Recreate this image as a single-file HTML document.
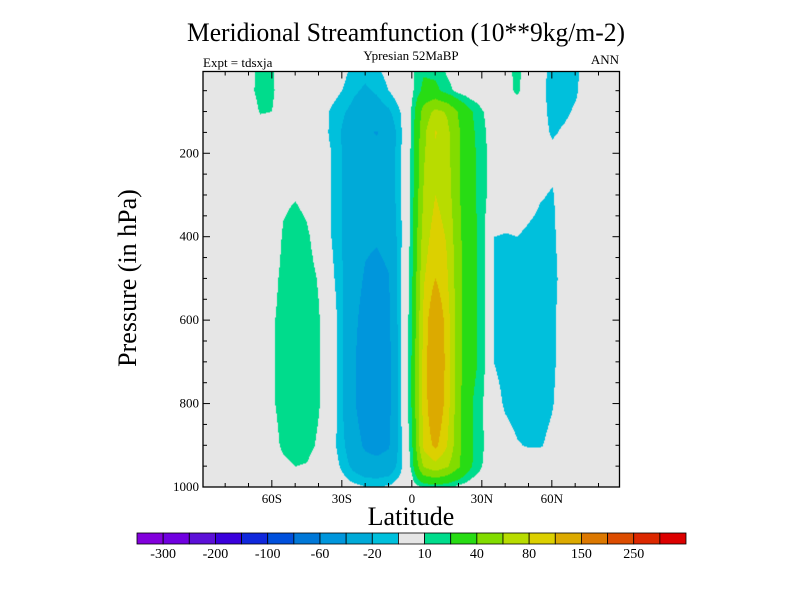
<!DOCTYPE html>
<html><head><meta charset="utf-8"><style>
html,body{margin:0;padding:0;background:#fff;}
#wrap{position:relative;width:800px;height:600px;overflow:hidden;}
svg{position:absolute;left:0;top:0;}
text{font-family:"Liberation Serif",serif;fill:#000;}
</style></head><body>
<div id="wrap">
<svg id="svg" width="800" height="600">
<text x="406" y="41" font-size="26" text-anchor="middle" textLength="438" lengthAdjust="spacingAndGlyphs">Meridional Streamfunction (10**9kg/m-2)</text>
<text x="411" y="60" font-size="13" text-anchor="middle">Ypresian  52MaBP</text>
<text x="203" y="67" font-size="13">Expt = tdsxja</text>
<text x="619" y="64" font-size="13" text-anchor="end">ANN</text>
<text transform="translate(136,278) rotate(-90)" font-size="26" text-anchor="middle">Pressure (in hPa)</text>
<text x="411" y="525" font-size="26" text-anchor="middle">Latitude</text>
<g id="plot"></g>
<g id="axes"></g>
<g id="cbar"></g>
</svg>
</div>
<script>
const lats = [-90,-85,-80,-75,-70,-65,-60,-55,-50,-45,-40,-35,-30,-25,-20,-15,-10,-5,0,5,10,15,20,25,30,35,40,45,50,55,60,65,70,75,80,85,90];
const pressures = [0,50,100,150,200,300,400,500,600,700,800,900,950,1000];
const psi = [
/*0*/   [0,0,0,0,5,14,12,2,0,0,0,0,-5,-14,-16,-12,-5,0,8,18,16,8,3,0,0,2,6,13,4,-4,-15,-16,-13,-2,0,0,0],
/*50*/  [0,0,0,0,6,14,12,3,0,0,0,-4,-10,-18,-22,-18,-10,-2,8,24,24,14,6,2,0,0,6,12,3,-6,-15,-15,-12,-3,0,0,0],
/*100*/ [0,0,0,0,2,11,10,2,0,0,0,-11,-18,-24,-28,-27,-22,-10,12,48,65,58,38,22,11,3,2,3,0,-5,-14,-13,-8,-2,0,0,0],
/*150*/ [0,0,0,0,0,3,3,0,0,0,0,-12,-21,-30,-38,-41,-32,-13,12,55,82,65,42,24,13,4,0,0,0,-4,-12,-8,-4,0,0,0,0],
/*200*/ [0,0,0,0,0,0,0,0,0,0,0,-9,-20,-30,-34,-35,-30,-12,14,58,75,66,42,25,14,4,0,0,0,0,-6,-3,0,0,0,0,0],
/*300*/ [0,0,0,0,0,0,0,7,9,6,0,-9,-20,-30,-33,-34,-30,-12,14,62,80,70,42,25,14,4,0,0,-4,-9,-11,-4,0,0,0,0,0],
/*400*/ [0,0,0,0,0,0,0,12,16,12,4,-9,-20,-32,-37,-38,-34,-13,16,70,90,78,44,26,16,-10,-11,-10,-13,-15,-13,-3,0,0,0,0,0],
/*500*/ [0,0,0,0,0,0,5,14,17,15,9,-5,-19,-33,-42,-46,-41,-12,18,78,100,82,46,26,16,-10,-15,-15,-16,-16,-15,-4,0,0,0,0,0],
/*600*/ [0,0,0,0,0,0,8,15,18,17,11,2,-19,-36,-47,-52,-44,-12,20,85,125,90,46,26,16,-10,-15,-16,-16,-16,-13,-3,0,0,0,0,0],
/*700*/ [0,0,0,0,0,0,8,15,18,17,11,2,-19,-38,-50,-54,-46,-12,22,88,130,92,46,26,16,-10,-15,-16,-16,-16,-13,-3,0,0,0,0,0],
/*800*/ [0,0,0,0,0,0,8,15,18,17,11,2,-19,-38,-50,-54,-46,-12,22,88,125,90,44,22,11,-4,-12,-15,-16,-16,-11,-2,0,0,0,0,0],
/*900*/ [0,0,0,0,0,0,4,13,16,14,8,-4,-16,-32,-43,-46,-42,-14,18,85,105,80,44,22,12,-2,-4,-9,-11,-11,-6,0,0,0,0,0,0],
/*950*/ [0,0,0,0,0,0,0,6,10,9,3,-2,-12,-24,-32,-34,-30,-14,14,62,72,62,42,22,10,0,0,0,0,0,0,0,0,0,0,0,0],
/*1000*/[0,0,0,0,0,0,0,0,0,0,0,0,-3,-6,-9,-9,-8,-3,4,10,12,10,6,2,0,0,0,0,0,0,0,0,0,0,0,0,0]
];
const levels = [-300,-250,-200,-150,-100,-80,-60,-40,-20,-10,10,20,40,60,80,100,150,200,250,300];
const levelLabels = ["-300","-200","-100","-60","-20","10","40","80","150","250"];
const colors = ["#8200dc","#7000e0","#5c10d8","#3a00dc","#1028dc","#0050dc","#0078d8","#0096dc","#00aad8","#00c0dc","#e6e6e6","#00dc8c","#28dc14","#82dc00","#b8dc00","#dcd000","#dcaa00","#dc7800","#dc4c00","#dc2800","#dc0000"];
const xTickVals = [-60,-30,0,30,60];
const xTickLabels = ["60S","30S","0","30N","60N"];
const yTickVals = [200,400,600,800,1000];

const NS="http://www.w3.org/2000/svg";
const X0=203, X1=619.5, Y0=71.5, Y1=487;
const LATMIN=-89.5, LATMAX=89, PTOP=4, PBOT=1000;
function xs(lat){return X0+(lat-LATMIN)/(LATMAX-LATMIN)*(X1-X0);}
function ys(p){return Y0+(p-PTOP)/(PBOT-PTOP)*(Y1-Y0);}
function mk(tag,attrs,parent){const e=document.createElementNS(NS,tag);for(const k in attrs)e.setAttribute(k,attrs[k]);parent.appendChild(e);return e;}
function idx(arr,v){let i=0;while(i<arr.length-2&&v>arr[i+1])i++;let t=(v-arr[i])/(arr[i+1]-arr[i]);t=Math.max(0,Math.min(1,t));return [i,t];}
function val(lat,p){const [i,ti]=idx(lats,lat);const [j,tj]=idx(pressures,p);
 const a=psi[j][i],b=psi[j][i+1],c=psi[j+1][i],d=psi[j+1][i+1];
 return (a*(1-ti)+b*ti)*(1-tj)+(c*(1-ti)+d*ti)*tj;}
function colorFor(v){let k=0;while(k<levels.length&&v>=levels[k])k++;return colors[k];}

const plot=document.getElementById('plot');
const W=Math.round(X1-X0),H=Math.round(Y1-Y0);
const cv=document.createElement('canvas');cv.width=W;cv.height=H;
const ctx=cv.getContext('2d');const img=ctx.createImageData(W,H);
function hex(c){return [parseInt(c.substr(1,2),16),parseInt(c.substr(3,2),16),parseInt(c.substr(5,2),16)];}
for(let py=0;py<H;py++){const p=PTOP+(py+0.5)/H*(PBOT-PTOP);
 for(let px=0;px<W;px++){const lat=LATMIN+(px+0.5)/W*(LATMAX-LATMIN);
  const rgb=hex(colorFor(val(lat,p)));const o=(py*W+px)*4;
  img.data[o]=rgb[0];img.data[o+1]=rgb[1];img.data[o+2]=rgb[2];img.data[o+3]=255;}}
ctx.putImageData(img,0,0);
const im=mk('image',{x:X0,y:Y0,width:W,height:H,preserveAspectRatio:'none',href:cv.toDataURL()},plot);



const axes=document.getElementById('axes');
const frame=mk('rect',{x:X0,y:Y0,width:X1-X0,height:Y1-Y0,fill:'none',stroke:'#000','stroke-width':1.3},axes);


for(let lat=-80;lat<=80;lat+=10){const x=xs(lat);const L=(lat%30===0)?7:4;
 const t1=mk('line',{x1:x,y1:Y1,x2:x,y2:Y1-L,stroke:'#000'},axes);
 
 
 const t2=mk('line',{x1:x,y1:Y0,x2:x,y2:Y0+L,stroke:'#000'},axes);
 
 }
xTickVals.forEach((v,i)=>{const t=mk('text',{x:xs(v),y:Y1+16,'font-size':13,'text-anchor':'middle'},axes);t.textContent=xTickLabels[i];
 
 });
for(let p=50;p<1000;p+=50){const y=ys(p);const L=(p%200===0)?7:4;
 const t1=mk('line',{x1:X0,y1:y,x2:X0+L,y2:y,stroke:'#000'},axes);
 
 
 const t2=mk('line',{x1:X1,y1:y,x2:X1-L,y2:y,stroke:'#000'},axes);
 
 }
yTickVals.forEach(v=>{const t=mk('text',{x:X0-4,y:ys(v)+4,'font-size':13,'text-anchor':'end'},axes);t.textContent=String(v);
 
 });

const cbar=document.getElementById('cbar');
const CB0=137,CB1=686,CBY=533,CBH=11;const bw=(CB1-CB0)/colors.length;
colors.forEach((c,i)=>{const r=mk('rect',{x:CB0+i*bw,y:CBY,width:bw,height:CBH,fill:c,stroke:'#000','stroke-width':0.8},cbar);
 
 });
levelLabels.forEach((lab,i)=>{const t=mk('text',{x:CB0+(2*i+1)*bw,y:CBY+25,'font-size':14,'text-anchor':'middle'},cbar);t.textContent=lab;
 
 });
</script>
</body></html>
